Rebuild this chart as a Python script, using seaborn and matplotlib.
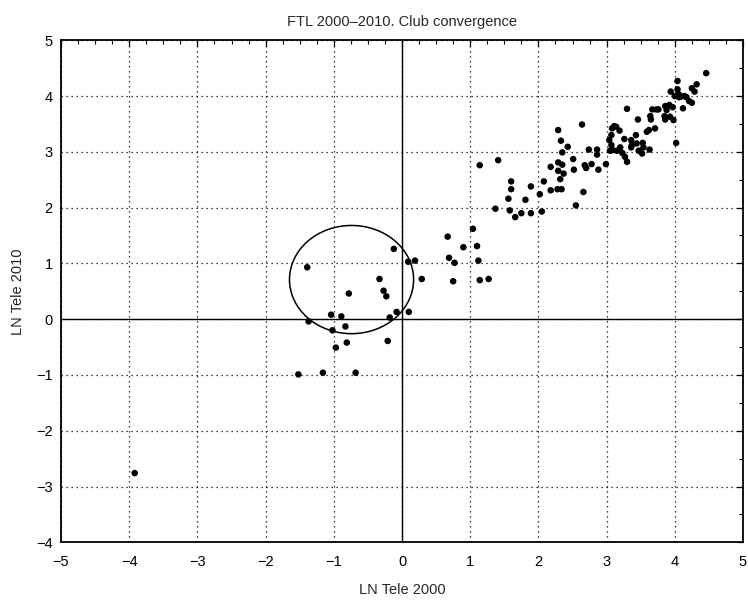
import matplotlib.pyplot as plt
import pandas as pd
import seaborn as sns
from matplotlib.patches import Ellipse
from matplotlib.ticker import MultipleLocator

# LN Tele 2000 (x) and LN Tele 2010 (y)
ln_tele_2000 = [
    1.37, 0.67, 1.04, 0.90, 1.10, 0.69, 0.77, 1.12, 0.75, 1.14, 1.27, -0.12,
    0.09, 0.19, 0.29, -1.39, -0.33, -0.78, -0.27, -0.23, -0.08, 0.10, -0.18,
    -1.04, -0.89, -1.37, -1.02, -0.83, -0.97, -0.81, -0.21, -1.52, -1.16,
    -0.68, -3.92,
    1.14, 1.41, 1.60, 1.60, 1.56, 1.58, 1.66, 1.75, 1.81, 1.89, 1.89, 2.02,
    2.05, 2.08, 2.18, 2.18, 2.29, 2.33, 2.43, 2.35, 2.29, 2.35, 2.29, 2.37,
    2.32, 2.28, 2.34, 2.51, 2.52, 2.66, 2.55, 2.64, 2.68, 2.70, 2.78, 2.74,
    2.86, 2.86, 2.88,
    2.99, 3.05, 3.09, 3.04, 3.07, 3.08, 3.11, 3.14, 3.19, 3.07, 3.15, 3.20,
    3.23, 3.27, 3.30, 3.26, 3.30, 3.36, 3.37, 3.36, 3.43, 3.46, 3.44, 3.47,
    3.52, 3.53, 3.54, 3.59, 3.62, 3.63, 3.65, 3.64, 3.67, 3.71, 3.73, 3.76,
    3.86, 3.88, 3.92, 3.85, 3.86, 3.93, 3.97, 3.98, 3.94, 4.02, 4.04, 4.04,
    4.06, 4.09, 4.06, 4.14, 4.12, 4.17, 4.21, 4.25, 4.25, 4.29, 4.32, 4.46,
    4.00,
]
ln_tele_2010 = [
    1.98, 1.48, 1.62, 1.29, 1.31, 1.10, 1.01, 1.05, 0.68, 0.70, 0.72, 1.26,
    1.03, 1.05, 0.72, 0.93, 0.72, 0.46, 0.51, 0.41, 0.13, 0.13, 0.03,
    0.08, 0.05, -0.04, -0.20, -0.13, -0.51, -0.42, -0.39, -0.99, -0.96,
    -0.96, -2.76,
    2.76, 2.85, 2.47, 2.33, 2.16, 1.95, 1.83, 1.90, 2.14, 2.38, 1.90, 2.24,
    1.93, 2.47, 2.73, 2.31, 3.39, 3.20, 3.09, 2.99, 2.81, 2.77, 2.66, 2.61,
    2.51, 2.33, 2.33, 2.87, 2.68, 2.28, 2.04, 3.49, 2.76, 2.71, 2.78, 3.04,
    3.04, 2.95, 2.68,
    2.78, 3.02, 3.03, 3.21, 3.30, 3.42, 3.46, 3.45, 3.38, 3.12, 3.02, 3.08,
    2.98, 2.91, 2.82, 3.23, 3.77, 3.21, 3.12, 3.08, 3.30, 3.58, 3.15, 3.02,
    2.97, 3.16, 3.08, 3.36, 3.39, 3.04, 3.58, 3.64, 3.76, 3.42, 3.76, 3.76,
    3.82, 3.75, 3.84, 3.64, 3.58, 3.63, 3.80, 3.57, 4.08, 3.16, 4.27, 4.12,
    4.03, 3.99, 3.98, 4.00, 3.78, 3.98, 3.91, 3.88, 4.14, 4.08, 4.21, 4.41,
    4.00,
]

# club circle (centre, width, height in data units)
club_centre = (-0.74, 0.71)
club_width = 1.82
club_height = 1.94

df = pd.DataFrame({"ln_2000": ln_tele_2000, "ln_2010": ln_tele_2010})

sns.set_style("white")
plt.rcParams["font.family"] = ["Liberation Sans Narrow", "Liberation Sans", "DejaVu Sans"]
plt.rcParams["font.size"] = 10.5

fig = plt.figure(figsize=(7.48, 6.01), dpi=100)
ax = fig.add_axes([0.0816, 0.0977, 0.9117, 0.8353])

ax.grid(True, which="major", color="black", linestyle=(0, (1, 3)), linewidth=0.9)
ax.axhline(0, color="black", linewidth=1.0, zorder=2)
ax.axvline(0, color="black", linewidth=1.0, zorder=2)

sns.scatterplot(data=df, x="ln_2000", y="ln_2010", ax=ax, color="black",
                s=22, edgecolor="none", zorder=3)

ax.add_patch(Ellipse(club_centre, club_width, club_height, fill=False,
                     edgecolor="black", linewidth=1.1, zorder=3))

ax.set_xlim(-5, 5)
ax.set_ylim(-4, 5)
ax.xaxis.set_major_locator(MultipleLocator(1))
ax.xaxis.set_minor_locator(MultipleLocator(0.25))
ax.yaxis.set_major_locator(MultipleLocator(1))
ax.yaxis.set_minor_locator(MultipleLocator(0.5))
ax.tick_params(which="both", direction="in", top=True, right=True, colors="black")
ax.tick_params(which="major", length=4, width=0.9)
ax.tick_params(which="minor", length=3, width=0.8)
ax.tick_params(axis="x", which="major", pad=9)
ax.tick_params(axis="y", which="major", pad=6)
ax.set_axisbelow(True)

for spine in ax.spines.values():
    spine.set_color("black")
    spine.set_linewidth(1.3)

ax.set_title("FTL 2000–2010. Club convergence", fontsize=10.5, pad=10)
ax.set_xlabel("LN Tele 2000", fontsize=10.5, labelpad=10)
ax.set_ylabel("LN Tele 2010", fontsize=10.5, labelpad=8)

fig.savefig("out.png", dpi=100)
plt.close(fig)
